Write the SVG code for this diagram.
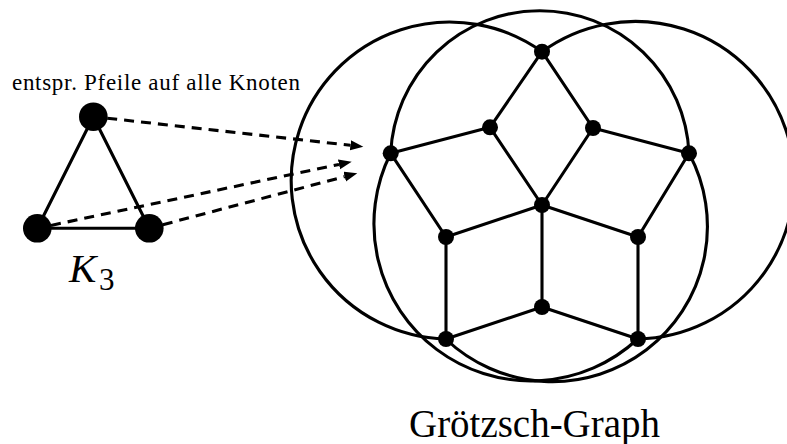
<svg xmlns="http://www.w3.org/2000/svg" width="787" height="444" viewBox="0 0 787 444">
<style>
.e{stroke:#000;stroke-width:3.1;fill:none;stroke-linecap:round}
.arc{stroke:#000;stroke-width:3.1;fill:none}
.d{stroke:#000;stroke-width:3.1;fill:none;stroke-dasharray:10 7}
.n{fill:#000}
.t{font-family:"Liberation Serif","Times New Roman",serif;fill:#000}
</style>
<defs>
<marker id="ah" markerUnits="userSpaceOnUse" markerWidth="14" markerHeight="11" refX="0" refY="5" orient="auto">
<path d="M0,0 L13,5 L0,10 Z" fill="#000"/>
</marker>
</defs>
<rect width="787" height="444" fill="#fff"/>
<g id="connectors">
<line class="e" x1="93.3" y1="116.7" x2="37.3" y2="228.3"/>
<line class="e" x1="93.3" y1="116.7" x2="149.3" y2="228.3"/>
<line class="e" x1="37.3" y1="228.3" x2="149.3" y2="228.3"/>
<line class="d" x1="107.2" y1="118.2" x2="350.4" y2="145.3" marker-end="url(#ah)"/>
<line class="d" x1="51" y1="225.4" x2="339" y2="164.4" marker-end="url(#ah)"/>
<line class="d" x1="162.8" y1="224.7" x2="344.7" y2="176.6" marker-end="url(#ah)"/>
<path class="arc" d="M542,51.7 A158.5,158.5 0 1 0 445.7,339"/>
<path class="arc" d="M542,51.7 A158.8,158.8 0 1 1 637.7,339"/>
<path class="arc" d="M390.7,153.3 A149.3,149.3 0 0 1 689,153.3"/>
<path class="arc" d="M390.7,153.3 A157,157 0 0 0 637.7,339"/>
<path class="arc" d="M689,153.3 A155,155 0 0 1 445.7,339"/>
<line class="e" x1="542" y1="51.7" x2="490" y2="127.3"/>
<line class="e" x1="542" y1="51.7" x2="593" y2="128"/>
<line class="e" x1="490" y1="127.3" x2="390.7" y2="153.3"/>
<line class="e" x1="490" y1="127.3" x2="542" y2="205"/>
<line class="e" x1="593" y1="128" x2="689" y2="153.3"/>
<line class="e" x1="593" y1="128" x2="542" y2="205"/>
<line class="e" x1="390.7" y1="153.3" x2="446" y2="237"/>
<line class="e" x1="689" y1="153.3" x2="638" y2="237"/>
<line class="e" x1="542" y1="205" x2="446" y2="237"/>
<line class="e" x1="542" y1="205" x2="638" y2="237"/>
<line class="e" x1="542" y1="205" x2="542" y2="307"/>
<line class="e" x1="446" y1="237" x2="446" y2="339"/>
<line class="e" x1="638" y1="237" x2="638" y2="339"/>
<line class="e" x1="542" y1="307" x2="446" y2="339"/>
<line class="e" x1="542" y1="307" x2="638" y2="339"/>
</g>
<g id="k3-top"><circle class="n" cx="93.3" cy="116.7" r="14.3"/></g>
<g id="k3-left"><circle class="n" cx="37.3" cy="228.3" r="14.3"/></g>
<g id="k3-right"><circle class="n" cx="149.3" cy="228.3" r="14.3"/></g>
<g id="g-top"><circle class="n" cx="542" cy="51.7" r="8"/></g>
<g id="g-inner-ul"><circle class="n" cx="490" cy="127.3" r="8"/></g>
<g id="g-inner-ur"><circle class="n" cx="593" cy="128" r="8"/></g>
<g id="g-outer-l"><circle class="n" cx="390.7" cy="153.3" r="8"/></g>
<g id="g-outer-r"><circle class="n" cx="689" cy="153.3" r="8"/></g>
<g id="g-center"><circle class="n" cx="542" cy="205" r="8"/></g>
<g id="g-mid-l"><circle class="n" cx="446" cy="237" r="8"/></g>
<g id="g-mid-r"><circle class="n" cx="638" cy="237" r="8"/></g>
<g id="g-bottom-c"><circle class="n" cx="542" cy="307" r="8"/></g>
<g id="g-bottom-l"><circle class="n" cx="446" cy="339" r="8"/></g>
<g id="g-bottom-r"><circle class="n" cx="638" cy="339" r="8"/></g>
<g id="labels">
<text class="t" x="12" y="90" font-size="23" textLength="288" lengthAdjust="spacing">entspr. Pfeile auf alle Knoten</text>
<text class="t" x="69" y="281.7" font-size="41" font-style="italic">K</text>
<text class="t" x="99" y="290" font-size="31">3</text>
<text class="t" x="409" y="436.5" font-size="41" textLength="251" lengthAdjust="spacingAndGlyphs">Grötzsch-Graph</text>
</g>
</svg>
